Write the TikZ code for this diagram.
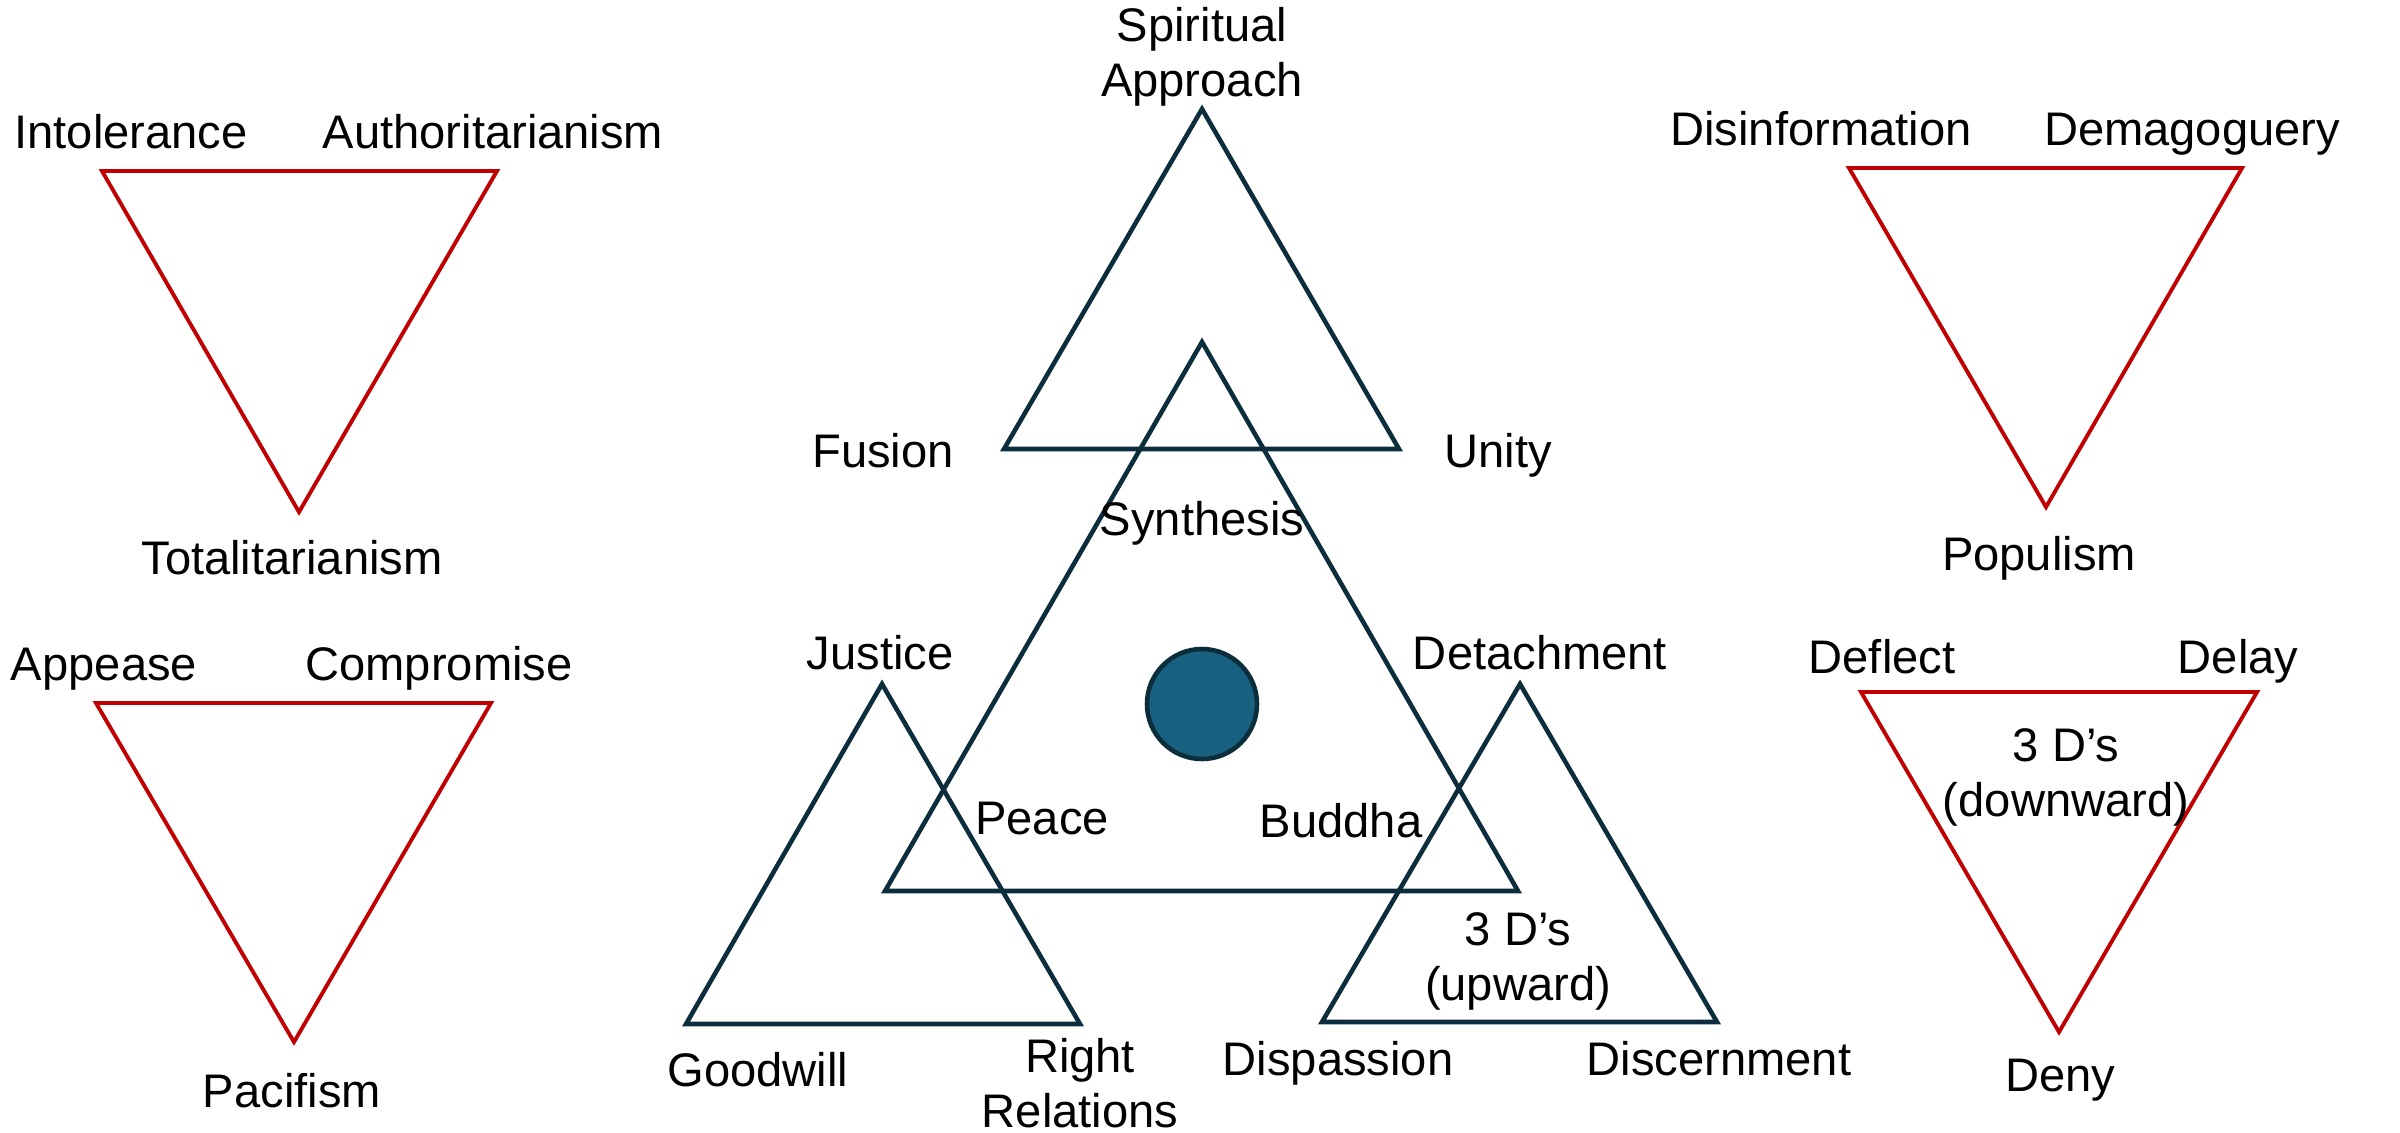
\documentclass[tikz,border=0pt]{standalone}
\usepackage{fontspec}
\setmainfont{Liberation Sans}
\usepackage{tikz}
\definecolor{trinavy}{HTML}{0B2D3C}
\definecolor{trired}{HTML}{C00000}
\definecolor{dotblue}{HTML}{18607F}

\begin{document}
\begin{tikzpicture}[x=0.01cm,y=-0.01cm,
  uptri/.style={draw=trinavy,line width=1.3pt},
  downtri/.style={draw=trired,line width=1.1pt},
  word/.style={inner sep=0pt,font=\fontsize{13.4}{15.6}\selectfont,anchor=base},
  pair/.style={inner sep=0pt,font=\fontsize{13.4}{15.6}\selectfont,align=center}
]
\useasboundingbox (0,0) rectangle (2400,1132);

% red triangles, left column
\draw[downtri] (102,171) -- (497,171) -- (299,512) -- cycle;
\draw[downtri] (96,703) -- (491,703) -- (294,1042) -- cycle;
% red triangles, right column
\draw[downtri] (1849,168) -- (2242,168) -- (2046,507) -- cycle;
\draw[downtri] (1861,692) -- (2257,692) -- (2059,1032) -- cycle;

% the centre group
\draw[uptri] (1004,449) -- (1399,449) -- (1202,109) -- cycle;
\draw[uptri] (885,891) -- (1518,891) -- (1202,342) -- cycle;
\draw[uptri] (686,1024) -- (1080,1024) -- (882,684) -- cycle;
\draw[uptri] (1322,1022) -- (1717,1022) -- (1520,684) -- cycle;
\draw[trinavy,line width=1.3pt,fill=dotblue] (1202,704) circle (55);

% labels
\node[word] (intol) at (131,148) {Intolerance};
\node[word] (author) at (493,148) {Authoritarianism};
\node[word] (total) at (292,574) {Totalitarianism};
\node[word] (appease) at (104,680) {Appease};
\node[word] (compro) at (439,680) {Compromise};
\node[word] (pacif) at (292,1107) {Pacifism};

\node[pair] (spirit) at (1202,57) {Spiritual\\Approach};
\node[word] (fusion) at (883,467) {Fusion};
\node[word] (unity) at (1498,467) {Unity};
\node[word] (synth) at (1202,535) {Synthesis};
\node[word] (justice) at (880,669) {Justice};
\node[word] (detach) at (1540,669) {Detachment};
\node[word] (peace) at (1042,834) {Peace};
\node[word] (buddha) at (1341,837) {Buddha};
\node[pair] (upward) at (1518,961) {3 D’s\\(upward)};
\node[word] (goodw) at (758,1086) {Goodwill};
\node[pair] (rightrel) at (1080,1083) {Right\\Relations};
\node[word] (dispas) at (1338,1075) {Dispassion};
\node[word] (discern) at (1719,1075) {Discernment};

\node[word] (disinfo) at (1821,145) {Disinformation};
\node[word] (demag) at (2192,145) {Demagoguery};
\node[word] (popul) at (2039,570) {Populism};
\node[word] (deflect) at (1882,673) {Deflect};
\node[word] (delay) at (2238,673) {Delay};
\node[pair] (downward) at (2066,777) {3 D’s\\(downward)};
\node[word] (deny) at (2060,1091) {Deny};
\end{tikzpicture}
\end{document}
